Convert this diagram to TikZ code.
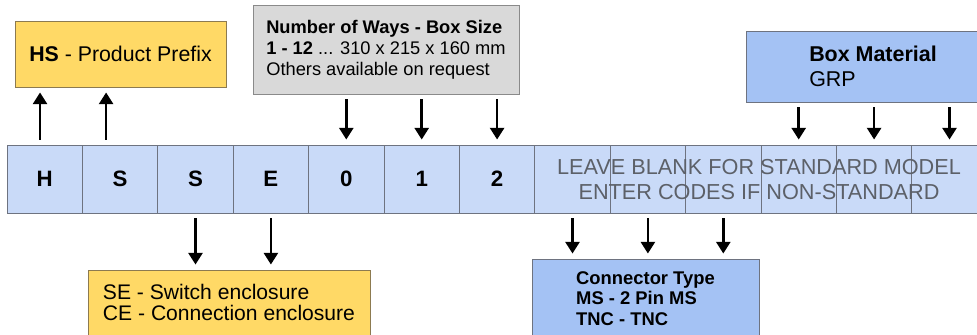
\documentclass[tikz,border=0pt]{standalone}
\usepackage{fontspec}
\setmainfont{Liberation Sans}
\usetikzlibrary{arrows.meta}
\definecolor{prefixyellow}{HTML}{FFD966}
\definecolor{yellowline}{HTML}{8C7A50}
\definecolor{sizegrey}{HTML}{D9D9D9}
\definecolor{greyline}{HTML}{8A8A8A}
\definecolor{codeblue}{HTML}{C9DAF8}
\definecolor{optblue}{HTML}{A4C2F4}
\definecolor{blueline}{HTML}{6E7380}
\definecolor{blanktext}{HTML}{5C6068}
\newcommand{\px}{0.3mm}
\tikzset{
  cell/.style={draw=blueline, fill=codeblue, line width=0.8pt, minimum width=75.4*\px, minimum height=68*\px, inner sep=0pt, font=\fontsize{19}{22}\selectfont\bfseries},
  infobox/.style={line width=0.8pt, align=left, inner sep=0pt},
  pointer/.style={-{Triangle[width=12pt,length=10pt]}, line width=2.2pt, shorten <=1.5mm, shorten >=1.5mm},
}
\begin{document}
\begin{tikzpicture}[x=0.3mm, y=-0.3mm]
	\useasboundingbox (0,0) rectangle (977,335);
	% option boxes
	\node[infobox, draw=yellowline, fill=prefixyellow, minimum width=211*\px, minimum height=66*\px, font=\fontsize{18.2}{21}\selectfont] (prefix) at (120.5,54) {\textbf{HS} - Product Prefix};
	\node[infobox, draw=greyline, fill=sizegrey, minimum width=266*\px, minimum height=89*\px, font=\fontsize{15.6}{17.9}\selectfont] (size) at (386,49.5) {\textbf{Number of Ways - Box Size}\\\textbf{1 - 12} ... 310 x 215 x 160 mm\\Others available on request};
	\node[infobox, draw=blueline, fill=optblue, minimum width=254*\px, minimum height=71*\px, font=\fontsize{18.3}{21.3}\selectfont] (material) at (873,66.5) {\textbf{Box Material}\\GRP};
	\node[infobox, draw=yellowline, fill=prefixyellow, minimum width=282*\px, minimum height=65*\px, font=\fontsize{18}{18.4}\selectfont] (enclosure) at (229,302.5) {SE - Switch enclosure\\CE - Connection enclosure};
	\node[infobox, draw=blueline, fill=optblue, minimum width=227*\px, minimum height=79*\px, font=\fontsize{15.7}{17.5}\selectfont\bfseries] (connector) at (645.5,298.5) {Connector Type\\MS - 2 Pin MS\\TNC - TNC};
	% the code row
	\node[cell] (c1) at (44.7,179) {H};
	\node[cell] (c2) at (120.1,179) {S};
	\node[cell] (c3) at (195.5,179) {S};
	\node[cell] (c4) at (270.9,179) {E};
	\node[cell] (c5) at (346.3,179) {0};
	\node[cell] (c6) at (421.7,179) {1};
	\node[cell] (c7) at (497.1,179) {2};
	\node[cell] (c8) at (572.5,179) {};
	\node[cell] (c9) at (647.9,179) {};
	\node[cell] (c10) at (723.3,179) {};
	\node[cell] (c11) at (798.7,179) {};
	\node[cell] (c12) at (874.1,179) {};
	\node[cell] (c13) at (949.5,179) {};
	\node[text=blanktext, align=center, inner sep=0pt, font=\fontsize{18.5}{21.3}\selectfont] (blank) at (759,179.5) {LEAVE BLANK FOR STANDARD MODEL\\ENTER CODES IF NON-STANDARD};
	% arrows
	\draw[pointer] ([xshift=-1.4mm]c1.north) -- ([xshift=-1.4mm]c1.north |- prefix.south);
	\draw[pointer] ([xshift=-4.2mm]c2.north) -- ([xshift=-4.2mm]c2.north |- prefix.south);
	\draw[pointer] (size.south -| c5.north) -- (c5.north);
	\draw[pointer] (size.south -| c6.north) -- (c6.north);
	\draw[pointer] (size.south -| c7.north) -- (c7.north);
	\draw[pointer] (material.south -| c11.north) -- (c11.north);
	\draw[pointer] (material.south -| c12.north) -- (c12.north);
	\draw[pointer] (material.south -| c13.north) -- (c13.north);
	\draw[pointer] (c3.south) -- (c3.south |- enclosure.north);
	\draw[pointer] (c4.south) -- (c4.south |- enclosure.north);
	\draw[pointer] (c8.south) -- (c8.south |- connector.north);
	\draw[pointer] (c9.south) -- (c9.south |- connector.north);
	\draw[pointer] (c10.south) -- (c10.south |- connector.north);
\end{tikzpicture}
\end{document}
